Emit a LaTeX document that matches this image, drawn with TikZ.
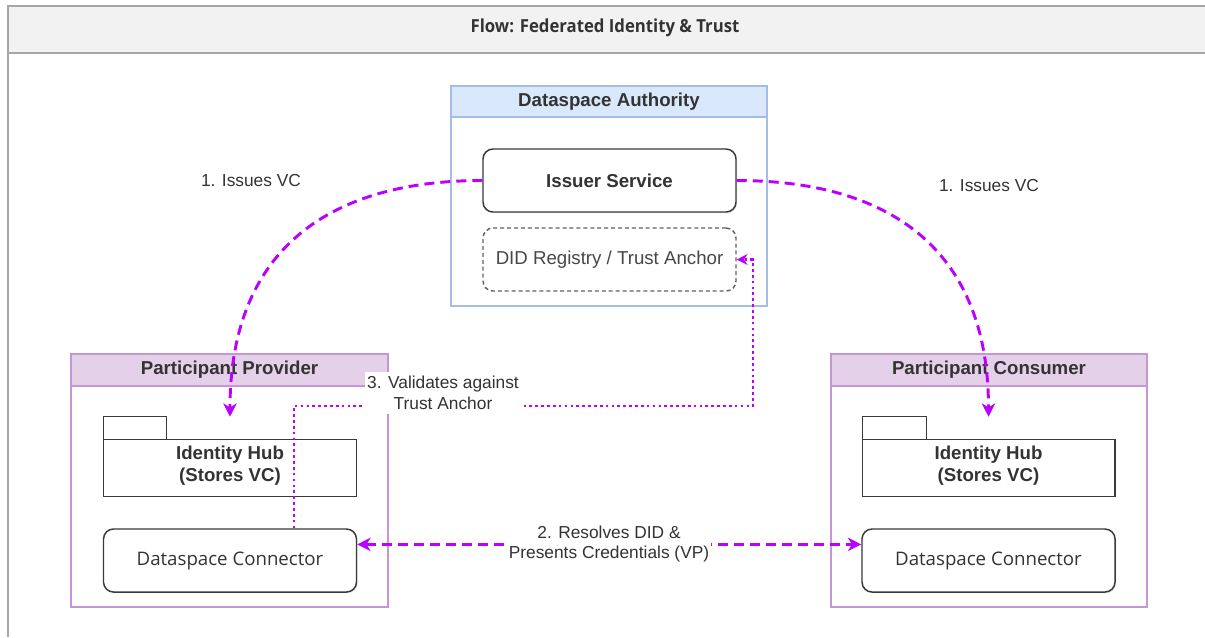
\documentclass[tikz,border=0pt]{standalone}
\usepackage{fontspec}
\setmainfont{Liberation Sans}
\newfontfamily\osans{Open Sans}
\newfontfamily\titlefont{Open Sans}[FakeStretch=0.93]
\usetikzlibrary{arrows.meta,calc,shadows}
\definecolor{mag}{HTML}{BB00FF}
\definecolor{boxgray}{HTML}{3A3A3A}
\definecolor{txt}{HTML}{333333}
\definecolor{authfill}{HTML}{DAE8FC}
\definecolor{authline}{HTML}{A3BDE6}
\definecolor{partfill}{HTML}{E4D0E8}
\definecolor{partline}{HTML}{C597D0}
\definecolor{hdrfill}{HTML}{F2F2F2}
\definecolor{hdrline}{HTML}{A6A6A6}
\newlength{\pxu}\setlength{\pxu}{0.75pt}
\begin{document}
\begin{tikzpicture}[x=0.75pt,y=-0.75pt,
  lbl/.style={font=\fontsize{14}{17}\selectfont, text=txt, align=center},
  small/.style={font=\fontsize{13}{15.5}\selectfont, text=txt, align=center},
  container/.style={draw=#1, line width=1.3pt, inner sep=0pt, fill=white},
  header/.style={draw=#1, line width=1.3pt, inner sep=0pt, font=\bfseries\fontsize{14}{17}\selectfont, text=txt},
  rbox/.style={draw=boxgray, line width=1.1pt, rounded corners=7.5pt, fill=white, inner sep=0pt,
    minimum width=253\pxu, minimum height=63\pxu, align=center,
    drop shadow={opacity=0.25, shadow xshift=0.8pt, shadow yshift=-0.9pt}},
  dashbox/.style={draw=boxgray!80, line width=1.1pt, rounded corners=7.5pt, dash pattern=on 3pt off 2.2pt,
    inner sep=0pt, minimum width=253\pxu, minimum height=63\pxu, align=center},
  folderarea/.style={inner sep=0pt, minimum width=252\pxu, minimum height=79\pxu},
  folderline/.style={draw=boxgray, line width=1.1pt, fill=white},
  vc/.style={draw=mag, line width=2.2pt, dash pattern=on 7.5pt off 4.5pt,
    -{Stealth[length=10pt,width=10pt,inset=3pt]}},
  vp/.style={draw=mag, line width=2.2pt, dash pattern=on 7.5pt off 4.5pt,
    {Stealth[length=10pt,width=10pt,inset=3pt]}-{Stealth[length=10pt,width=10pt,inset=3pt]}},
  trust/.style={draw=mag, line width=1.6pt, dash pattern=on 2pt off 2.4pt,
    -{Stealth[length=8pt,width=8pt,inset=2.5pt]}},
  elabel/.style={fill=white, inner sep=1pt, font=\fontsize{13}{15.5}\selectfont, text=txt, align=center}
]
\useasboundingbox (0,0) rectangle (1205,637);

% outer frame
\fill[white] (0,0) rectangle (1205,637);
\draw[hdrline, line width=1.2pt] (8,53) -- (8,637);
\draw[hdrline, line width=1.5pt, fill=hdrfill] (8,6) rectangle (1215,53);
\node[font=\titlefont\bfseries\fontsize{13.5}{16}\selectfont, text=txt] (title) at (605,28) {Flow: Federated Identity \& Trust};

% Dataspace Authority
\node[container=authline, minimum width=316\pxu, minimum height=220\pxu] (auth) at (609,196) {};
\node[header=authline, fill=authfill, minimum width=316\pxu, minimum height=31\pxu, anchor=north] (authh) at (auth.north) {Dataspace Authority};
\node[rbox, font=\bfseries\fontsize{14}{17}\selectfont, text=txt] (iss) at (609.5,180.5) {Issuer Service};
\node[dashbox, font=\fontsize{14}{17}\selectfont, text=txt!90] (did) at (609.5,259.5) {DID Registry / Trust Anchor};

% Participant Provider
\node[container=partline, minimum width=317\pxu, minimum height=253\pxu] (prov) at (229.5,480.5) {};
\node[header=partline, fill=partfill, minimum width=317\pxu, minimum height=32\pxu, anchor=north] (provh) at (prov.north) {Participant Provider};
\node[folderarea] (hubP) at (230,456.5) {};
\draw[folderline, drop shadow={opacity=0.25, shadow xshift=0.8pt, shadow yshift=-0.9pt}] (hubP.south west) rectangle ($(hubP.north east)+(0,23)$);
\draw[folderline] (hubP.north west) rectangle ++(63,23);
\node[lbl, font=\bfseries\fontsize{14}{17}\selectfont] (hubPt) at ($(hubP.center)+(0,9)$) {Identity Hub\\(Stores VC)};
\node[rbox, font=\osans\fontsize{14}{17}\selectfont, text=txt] (connP) at (230,560.5) {Dataspace Connector};

% Participant Consumer
\node[container=partline, minimum width=316\pxu, minimum height=253\pxu] (cons) at (989,480.5) {};
\node[header=partline, fill=partfill, minimum width=316\pxu, minimum height=32\pxu, anchor=north] (consh) at (cons.north) {Participant Consumer};
\node[folderarea] (hubC) at (988.5,456.5) {};
\draw[folderline, drop shadow={opacity=0.25, shadow xshift=0.8pt, shadow yshift=-0.9pt}] (hubC.south west) rectangle ($(hubC.north east)+(0,23)$);
\draw[folderline] (hubC.north west) rectangle ++(64,23);
\node[lbl, font=\bfseries\fontsize{14}{17}\selectfont] (hubCt) at ($(hubC.center)+(0,9)$) {Identity Hub\\(Stores VC)};
\node[rbox, font=\osans\fontsize{14}{17}\selectfont, text=txt] (connC) at (988.5,560.5) {Dataspace Connector};

% 1. Issues VC
\draw[vc] (iss.west) .. controls +(-150,0) and +(0,-170) .. (hubP.north);
\draw[vc] (iss.east) .. controls +(150,0) and +(0,-170) .. (hubC.north);
\node[small] (l1a) at (251,181) {1. Issues VC};
\node[small] (l1b) at (989,186) {1. Issues VC};

% 2. Resolves DID
\coordinate (pA) at ($(connP.north east)!0.25!(connP.south east)$);
\coordinate (pB) at ($(connC.north west)!0.25!(connC.south west)$);
\draw[vp] (pA) -- (pB);
\node[elabel] (l2) at (609,544) {2. Resolves DID \&\\Presents Credentials (VP)};

% 3. Validates against Trust Anchor
\coordinate (tA) at ($(connP.north west)!0.75!(connP.north east)$);
\coordinate (tB) at ($(did.east)+(16,0)$);
\draw[trust] (tA) -- ++(0,-122) -| (tB) -- (did.east);
\node[elabel, inner xsep=2pt, inner ysep=3pt] (l3) at (443,393) {3. Validates against\\Trust Anchor};

\end{tikzpicture}
\end{document}
